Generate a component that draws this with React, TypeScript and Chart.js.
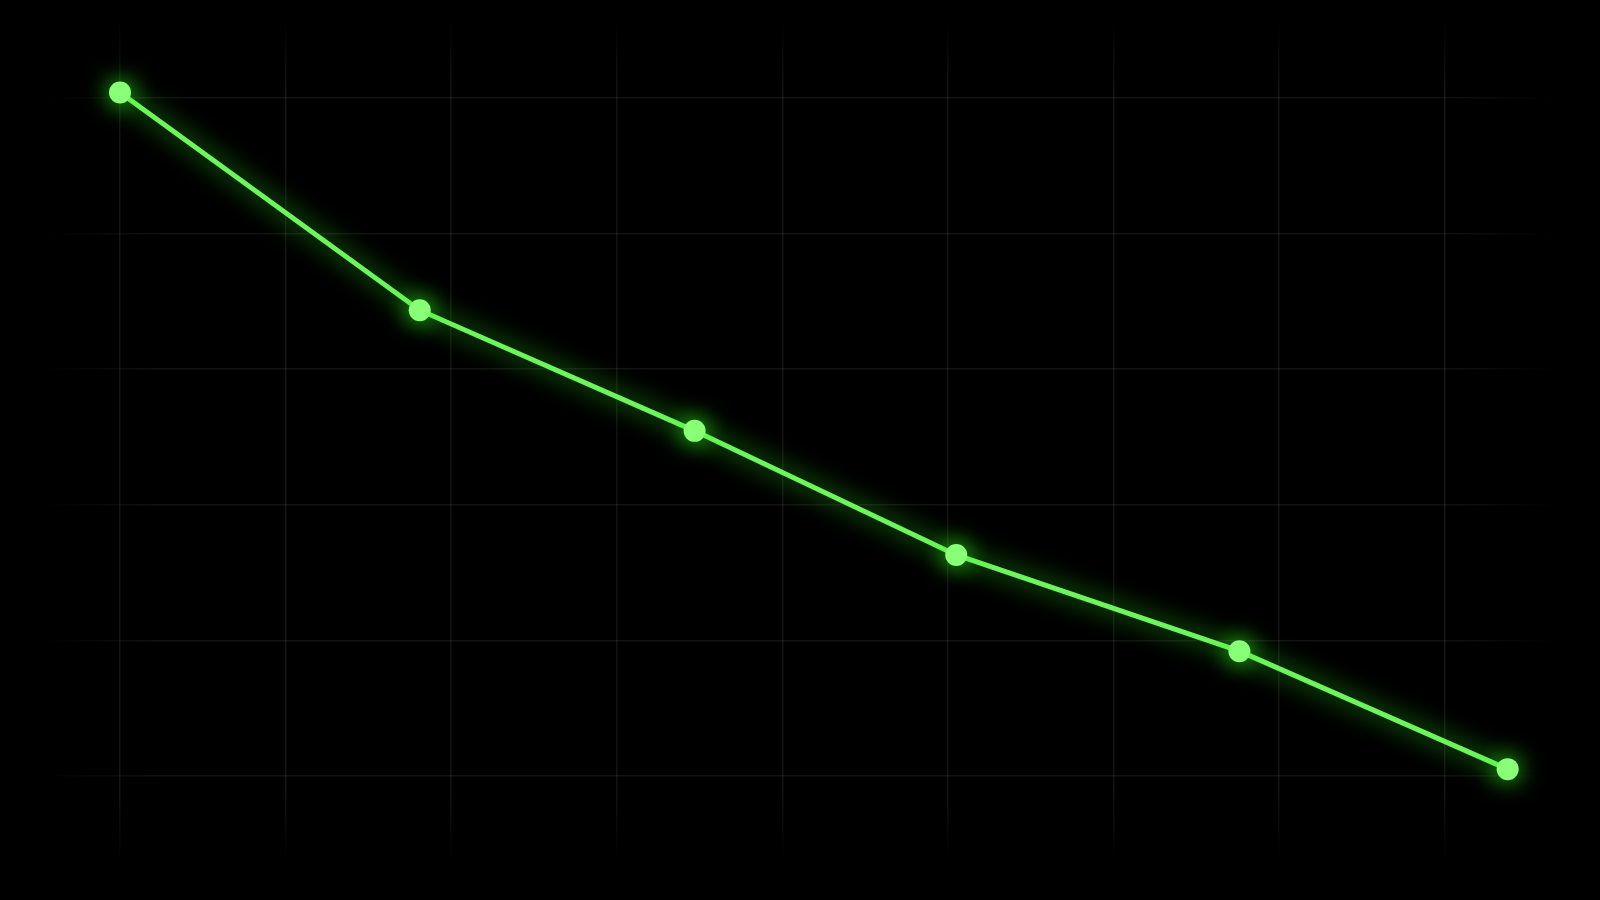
import { useEffect, useRef } from "react";
import { Chart, registerables } from "chart.js";

Chart.register(...registerables);

// values (x in grid units of 10, y on a 0..100 scale)
const xValues = [0, 18.1, 34.7, 50.5, 67.6, 83.8];
const yValues = [100.8, 68.7, 50.9, 32.6, 18.4, 1.0];
const xGridTicks = [0, 10, 20, 30, 40, 50, 60, 70, 80];
const yGridTicks = [0, 20, 40, 60, 80, 100];

const lineColor = "#6ef45c";
const pointColor = "#88ff76";
const gridColor = "rgba(255, 255, 255, 0.075)";

// soft glow around the line and points
const glowPlugin = {
  id: "glow",
  beforeDatasetsDraw(chart: any) {
    const ctx = chart.ctx;
    ctx.save();
    ctx.shadowColor = "rgba(50, 255, 30, 0.95)";
    ctx.shadowBlur = 24;
  },
  afterDatasetsDraw(chart: any) {
    chart.ctx.restore();
  },
};

function fadeGrid(vertical: boolean) {
  return (c: any) => {
    const area = c.chart.chartArea;
    if (!area) return gridColor;
    const g = vertical
      ? c.chart.ctx.createLinearGradient(0, area.top, 0, area.bottom)
      : c.chart.ctx.createLinearGradient(area.left, 0, area.right, 0);
    g.addColorStop(0, "rgba(255,255,255,0)");
    g.addColorStop(0.08, gridColor);
    g.addColorStop(0.92, gridColor);
    g.addColorStop(1, "rgba(255,255,255,0)");
    return g;
  };
}

export default function App() {
  const chartRef = useRef<HTMLCanvasElement>(null);

  useEffect(() => {
    if (!chartRef.current) return;
    document.body.style.margin = "0";
    document.body.style.background = "#000";

    const chart = new Chart(chartRef.current, {
      type: "line",
      data: {
        datasets: [
          {
            data: xValues.map((x, i) => ({ x, y: yValues[i] })),
            borderColor: lineColor,
            borderWidth: 5,
            pointRadius: 11,
            pointBackgroundColor: pointColor,
            pointBorderColor: pointColor,
            pointBorderWidth: 0,
            tension: 0,
            clip: false,
          },
        ],
      },
      options: {
        responsive: true,
        maintainAspectRatio: false,
        animation: false,
        layout: { padding: { left: 45, right: 45, top: 20, bottom: 40 } },
        plugins: { legend: { display: false }, tooltip: { enabled: false } },
        scales: {
          x: {
            type: "linear",
            min: -4.53,
            max: 86.66,
            afterBuildTicks: (axis: any) => {
              axis.ticks = xGridTicks.map((v) => ({ value: v }));
            },
            ticks: { display: false },
            border: { display: false },
            grid: { color: fadeGrid(true), lineWidth: 1.5, drawTicks: false },
          },
          y: {
            type: "linear",
            min: -12.4,
            max: 111.5,
            afterBuildTicks: (axis: any) => {
              axis.ticks = yGridTicks.map((v) => ({ value: v }));
            },
            ticks: { display: false },
            border: { display: false },
            grid: { color: fadeGrid(false), lineWidth: 1.5, drawTicks: false },
          },
        },
      },
      plugins: [glowPlugin],
    });

    return () => chart.destroy();
  }, []);

  return (
    <div style={{ position: "fixed", left: 0, top: 0, width: 1600, height: 900, background: "#000" }}>
      <canvas ref={chartRef} />
    </div>
  );
}
